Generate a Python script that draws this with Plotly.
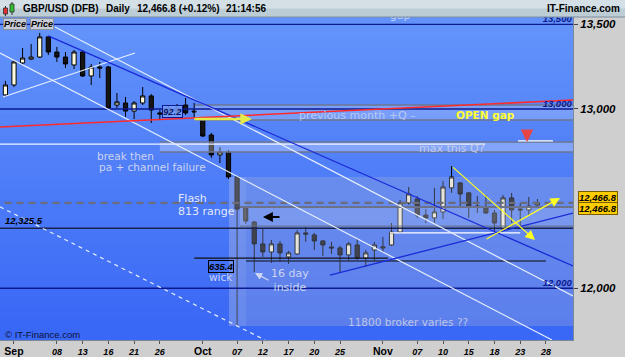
import math
import plotly.graph_objects as go

# ---------------- data (trading-day index 0 = 31 Aug 2016) ----------------
day_index = list(range(63))
opens = [13082, 13140, 13270, 13293, 13305, 13425, 13335, 13305, 13258, 13335,
         13193, 13246, 13246, 13023, 13035, 12988, 13035, 13076, 12977, 12983,
         13006, 13023, 12988, 12936, 12850, 12736, 12753, 12611, 12438, 12360,
         12240, 12196, 12240, 12169, 12185, 12300, 12289, 12256, 12223, 12218,
         12180, 12234, 12163, 12207, 12218, 12234, 12305, 12466, 12488, 12399,
         12383, 12416, 12550, 12578, 12522, 12449, 12438, 12410, 12322, 12494,
         12432, 12427, 12455]
highs = [13164, 13288, 13359, 13383, 13449, 13431, 13365, 13335, 13347, 13347,
         13264, 13276, 13252, 13093, 13070, 13046, 13128, 13087, 12994, 13023,
         13029, 13064, 13035, 12948, 12862, 12781, 12764, 12617, 12444, 12366,
         12322, 12262, 12256, 12202, 12316, 12333, 12300, 12262, 12251, 12229,
         12251, 12267, 12207, 12251, 12278, 12355, 12482, 12555, 12505, 12432,
         12550, 12589, 12673, 12583, 12527, 12505, 12510, 12427, 12510, 12522,
         12466, 12499, 12488]
lows = [13070, 13128, 13258, 13288, 13299, 13317, 13276, 13240, 13234, 13187,
        13140, 13181, 13000, 13006, 12954, 12942, 13023, 12919, 12936, 12959,
        12965, 12965, 12948, 12838, 12719, 12690, 12600, 11800, 12350, 12088,
        12169, 12136, 12142, 12131, 12180, 12251, 12207, 12174, 12185, 12082,
        12147, 12153, 12115, 12142, 12191, 12229, 12300, 12455, 12383, 12355,
        12355, 12377, 12522, 12444, 12383, 12410, 12405, 12305, 12316, 12355,
        12338, 12399, 12444]
closes = [13140, 13276, 13299, 13305, 13425, 13335, 13305, 13264, 13335, 13193,
          13246, 13240, 13006, 13041, 12988, 13035, 13076, 12994, 12971, 13006,
          12988, 12977, 12983, 12844, 12736, 12753, 12611, 12432, 12366, 12240,
          12196, 12240, 12191, 12191, 12300, 12294, 12256, 12234, 12218, 12180,
          12240, 12163, 12191, 12234, 12223, 12305, 12466, 12516, 12399, 12383,
          12416, 12555, 12611, 12516, 12449, 12444, 12410, 12355, 12494, 12427,
          12427, 12449, 12466.8]

tick_pos = [1, 6, 9, 12, 15, 18, 23, 27, 30, 33, 36, 39, 44, 48, 51, 54, 57, 60, 63]
tick_text = ['Sep', '08', '13', '16', '21', '26', 'Oct', '07', '12', '17', '20', '25',
             'Nov', '07', '10', '15', '18', '23', '28']
month_names = ['Sep', 'Oct', 'Nov']

price_ticks = [12000, 13000, 13500]
price_tick_text = ['12,000', '13,000', '13,500']
last_price = 12466.8
pivot_price = 12325.5

# drawn levels / zones / trend lines (index, price)
X_MIN, X_MAX = -0.63, 66.15
Y_MIN, Y_MAX = 11726, 13545
XL, XR = -1.5, 67.5

zones = [  # x0, x1, p0, p1, fill
    (26.06, XR, 11800, 12611, 'rgba(170,180,212,0.30)'),
    (26.06, 28.04, 11800, 12611, 'rgba(255,255,255,0.08)'),
    (27.34, XR, 12338, 12444, 'rgba(255,255,255,0.13)'),
    (22.1, XR, 12936, 13023, 'rgba(255,255,255,0.20)'),
    (18.0, XR, 12753, 12810, 'rgba(255,255,255,0.28)'),
]
levels = [  # x0, x1, price, color, width, dash
    (XL, XR, 13500, '#0d1a8f', 1.3, 'solid'),
    (XL, XR, 13000, '#0d1a8f', 1.3, 'solid'),
    (XL, XR, 12000, '#0d1a8f', 1.3, 'solid'),
    (XL, XR, pivot_price, '#1a2250', 1.5, 'solid'),
    (XL, XR, last_price, '#6a6c78', 2.2, '7px,5px'),
    (22.1, XR, 13023, '#6c7690', 1.5, 'solid'),
    (22.1, XR, 12936, '#6c7690', 1.5, 'solid'),
    (18.0, XR, 12810, '#6c7690', 1.5, 'solid'),
    (18.0, XR, 12753, '#6c7690', 1.5, 'solid'),
    (27.34, XR, 12444, '#6c7388', 2.0, 'solid'),
    (27.34, XR, 12338, '#6c7388', 1.0, 'solid'),
    (XL, 55.9, 12798, '#eef3ff', 1.3, 'solid'),
    (59.74, 63.82, 12816, '#ffffff', 1.3, 'solid'),
    (44.8, 60.0, 12300, '#ffffff', 1.3, 'solid'),
    (22.0, 44.6, 12163, '#101010', 1.2, 'solid'),
    (28.04, 63.0, 12147, '#2a3350', 1.6, 'solid'),
]
trends = [  # (x0, p0), (x1, p1), color, width, dash
    ((5.78, 13485), (66.15, 11959), '#e6eeff', 1.2, 'solid'),
    ((-0.63, 13329), (63.71, 11726), '#e6eeff', 1.2, 'solid'),
    ((-0.28, 13070), (15.1, 13329), '#e6eeff', 1.2, 'solid'),
    ((-0.63, 12444), (30.26, 11726), '#e6eeff', 1.2, '4px,4px'),
    ((5.0, 13431), (66.15, 12120), '#1a2ad8', 1.3, 'solid'),
    ((37.83, 12071), (66.15, 12410), '#1a2ad8', 1.3, 'solid'),
    ((-0.63, 12896), (66.15, 13052), '#ff2a2a', 1.6, 'solid'),
]
arrows = [  # tail(x,p), tip(x,p), color, width, size
    ((52.0, 12673), (61.72, 12262), '#ffff22', 1.2, 1.6),
    ((55.9, 12262), (64.64, 12494), '#ffff22', 1.2, 1.6),
    ((21.86, 12942), (28.74, 12942), '#e6ea48', 2.6, 0.9),
]

L = math.log10
fig = go.Figure()

# gradient background of the plot area
n_band = 30
top_c, bot_c = (100, 148, 250), (56, 102, 246)
shapes = []
for k in range(n_band):
    t = (k + 0.5) / n_band
    c = tuple(int(round(bot_c[j] + (top_c[j] - bot_c[j]) * t)) for j in range(3))
    shapes.append(dict(type='rect', xref='paper', yref='paper', x0=0, x1=1,
                       y0=k / n_band, y1=(k + 1) / n_band + 0.002, layer='below',
                       line=dict(width=0), fillcolor='rgb(%d,%d,%d)' % c))

for x0, x1, p0, p1, fill in zones:
    fig.add_trace(go.Scatter(x=[x0, x1, x1, x0, x0], y=[p0, p0, p1, p1, p0], mode='lines',
                             fill='toself', fillcolor=fill, line=dict(width=0),
                             hoverinfo='skip', showlegend=False))

for x0, x1, p, col, w, d in levels:
    fig.add_trace(go.Scatter(x=[x0, x1], y=[p, p], mode='lines',
                             line=dict(color=col, width=w, dash=d),
                             hoverinfo='skip', showlegend=False))

fig.add_trace(go.Candlestick(
    x=day_index, open=opens, high=highs, low=lows, close=closes,
    increasing=dict(line=dict(color='#000000', width=1), fillcolor='#fffbdc'),
    decreasing=dict(line=dict(color='#000000', width=1), fillcolor='#151515'),
    showlegend=False, hoverinfo='skip'))

for (x0, p0), (x1, p1), col, w, d in trends:
    fig.add_trace(go.Scatter(x=[x0, x1], y=[p0, p1], mode='lines',
                             line=dict(color=col, width=w, dash=d),
                             hoverinfo='skip', showlegend=False))

# clipped texts
fig.add_trace(go.Scatter(x=[46.0], y=[13552], mode='text', text=['gap'],
                         textfont=dict(family='DejaVu Sans', size=11, color='#c4d2f2'),
                         textposition='middle center', hoverinfo='skip', showlegend=False))
fig.add_trace(go.Scatter(x=[66.0] * 3, y=price_ticks, mode='text',
                         text=['<b><i>%s</i></b>' % t for t in price_tick_text],
                         textfont=dict(family='Liberation Sans', size=9.5, color='#0d1a8f'),
                         textposition='top left', hoverinfo='skip', showlegend=False))

ann = []
for (tx, tp), (hx, hp), col, w, s in arrows:
    ann.append(dict(x=hx, y=L(hp), ax=tx, ay=L(tp), axref='x', ayref='y', xref='x', yref='y',
                    text='', showarrow=True, arrowhead=2, arrowsize=s, arrowwidth=w,
                    arrowcolor=col))
# black left arrow
ann.append(dict(x=30.02, y=L(12388), ax=18, ay=0, text='', showarrow=True, arrowhead=2,
                arrowsize=0.9, arrowwidth=2.2, arrowcolor='#000000'))
# red down arrow
ann.append(dict(x=60.79, y=L(12810), ax=0, ay=-12, text='', showarrow=True, arrowhead=2,
                arrowsize=0.55, arrowwidth=4.5, arrowcolor='#e84444'))
# 16 day arrow
ann.append(dict(x=29.09, y=L(12082), ax=15, ay=8, text='', showarrow=True, arrowhead=2,
                arrowsize=1.1, arrowwidth=1.3, arrowcolor='#d0d8f4'))

light = '#cbd4f0'
def txt(x, p, s, size=10.5, color=light, xa='center', family='DejaVu Sans', **kw):
    d = dict(x=x, y=L(p), text=s, showarrow=False, xanchor=xa, yanchor='middle',
             font=dict(family=family, size=size, color=color))
    d.update(kw)
    ann.append(d)

txt(13.94, 12730, 'break then')
txt(17.1, 12668, 'pa + channel failure')
txt(19.88, 12488, 'Flash', size=11, color='#e2e8f8', xa='left')
txt(19.88, 12421, '813 range', size=11, color='#e2e8f8', xa='left')
txt(33.99, 12965, 'previous month +Q \u2013', size=11, color='#b8c8f0', xa='left')
txt(55.9, 12965, '<b>OPEN gap</b>', size=10.5, color='#ffff30')
txt(52.05, 12770, 'max this Q?', size=11, color='#c2cbe8')
txt(25.13, 12061, 'wick', size=10.5)
txt(33.17, 12042, '16 day<br>inside', size=11, borderpad=0)
txt(46.9, 11821, '11800 broker varies ??', size=10.5, color='#bcc6ea')
txt(19.5, 12985.5, '<b><i>92.2</i></b>', size=9.5, color='#0a1460', family='Liberation Sans',
    bgcolor='rgba(120,160,250,0.85)', bordercolor='#0d1a8f', borderwidth=1, borderpad=0)
txt(25.13, 12115, '<b><i>635.4</i></b>', size=9.5, color='#000000', family='Liberation Sans',
    bordercolor='#000000', borderwidth=1, borderpad=0)

PH = 323.0
def py(pix):
    return (340 - pix) / PH
def px(pix):
    return pix / 573.0

ann.append(dict(xref='paper', yref='paper', x=px(3), y=py(334), xanchor='left', yanchor='middle',
                text='\u00a9 IT-Finance.com', showarrow=False,
                font=dict(family='Liberation Sans', size=9.5, color='#0b1238')))
ann.append(dict(xref='paper', yref='y', x=px(3), y=L(pivot_price), xanchor='left', yanchor='bottom',
                yshift=0, text='<b><i>12,325.5</i></b>', showarrow=False,
                font=dict(family='Liberation Sans', size=9.5, color='#000000')))
for ys in (5.5, -5.5):
    ann.append(dict(xref='paper', yref='y', x=1.0, y=L(last_price), xanchor='left', yanchor='middle',
                    xshift=5, yshift=ys, text='<b><i>12,466.8</i></b>', showarrow=False,
                    bgcolor='#ffcc00', bordercolor='#7a5c00', borderwidth=1, borderpad=0,
                    font=dict(family='Liberation Sans', size=9.5, color='#000000')))

# title bar
shapes.append(dict(type='rect', xref='paper', yref='paper', x0=-0.01, x1=1.1, y0=1.0, y1=py(8.5),
                   line=dict(width=0), fillcolor='#bccdd6', layer='above'))
shapes.append(dict(type='rect', xref='paper', yref='paper', x0=-0.01, x1=1.1, y0=py(8.5), y1=py(-2),
                   line=dict(width=0), fillcolor='#d4e0e6', layer='above'))
shapes.append(dict(type='line', xref='paper', yref='paper', x0=-0.01, x1=1.1, y0=1.0, y1=1.0,
                   line=dict(color='#7d8ea0', width=1), layer='above'))
# icon
for (xa, xb, ya, yb, wx, wa, wb, col) in [(3.5, 7.5, 8, 14, 5.5, 6, 16, '#e03030'),
                                           (10, 14, 4, 12, 12, 2, 15, '#2fbf2f')]:
    shapes.append(dict(type='line', xref='paper', yref='paper', x0=px(wx), x1=px(wx), y0=py(wa), y1=py(wb),
                       line=dict(color='#303030', width=1), layer='above'))
    shapes.append(dict(type='rect', xref='paper', yref='paper', x0=px(xa), x1=px(xb), y0=py(ya), y1=py(yb),
                       line=dict(color='#303030', width=0.8), fillcolor=col, layer='above'))

tfont = dict(family='Liberation Sans', size=10, color='#000000')
for xpix, s in [(21, 'GBP/USD (DFB)'), (104, 'Daily'), (135, '12,466.8 (+0.12%)'), (224, '21:14:56')]:
    ann.append(dict(xref='paper', yref='paper', x=px(xpix), y=py(8.5), xanchor='left', yanchor='middle',
                    text='<b>%s</b>' % s, showarrow=False, font=tfont))
ann.append(dict(xref='paper', yref='paper', x=px(622), y=py(8.5), xanchor='right', yanchor='middle',
                text='<b>IT-Finance.com</b>', showarrow=False, font=tfont))
for xpix in (3, 30):
    ann.append(dict(xref='paper', yref='paper', x=px(xpix), y=py(23.5), xanchor='left', yanchor='middle',
                    text='<b><i>Price</i></b>', showarrow=False, bgcolor='#c8ccd6',
                    bordercolor='#8a90a0', borderwidth=1, borderpad=0,
                    font=dict(family='Liberation Sans', size=9, color='#000000')))

xt = []
for t in tick_text:
    if t in month_names:
        xt.append('<span style="font-size:10.5px"><b>%s</b></span>' % t)
    else:
        xt.append('<b><i>%s</i></b>' % t)

fig.update_layout(
    width=625, height=357,
    margin=dict(l=0, r=52, t=17, b=17, pad=0),
    paper_bgcolor='#cfcfcf', plot_bgcolor='#5a8af6',
    showlegend=False, shapes=shapes, annotations=ann,
    xaxis=dict(range=[X_MIN, X_MAX], rangeslider=dict(visible=False), showgrid=False,
               zeroline=False, tickmode='array', tickvals=tick_pos, ticktext=xt,
               tickfont=dict(family='Liberation Sans', size=9, color='#000000'),
               ticks='outside', ticklen=3, tickcolor='#555555',
               showline=True, linecolor='#7a8898', linewidth=1, fixedrange=True),
    yaxis=dict(type='log', range=[L(Y_MIN), L(Y_MAX)], side='right', showgrid=False,
               zeroline=False, tickmode='array', tickvals=price_ticks,
               ticktext=['<b><i>%s</i></b>' % t for t in price_tick_text],
               tickfont=dict(family='Liberation Sans', size=11.5, color='#000000'),
               ticks='outside', ticklen=4, tickcolor='#444444',
               showline=True, linecolor='#7a8898', linewidth=1, fixedrange=True),
)

fig.write_html('out.html')
